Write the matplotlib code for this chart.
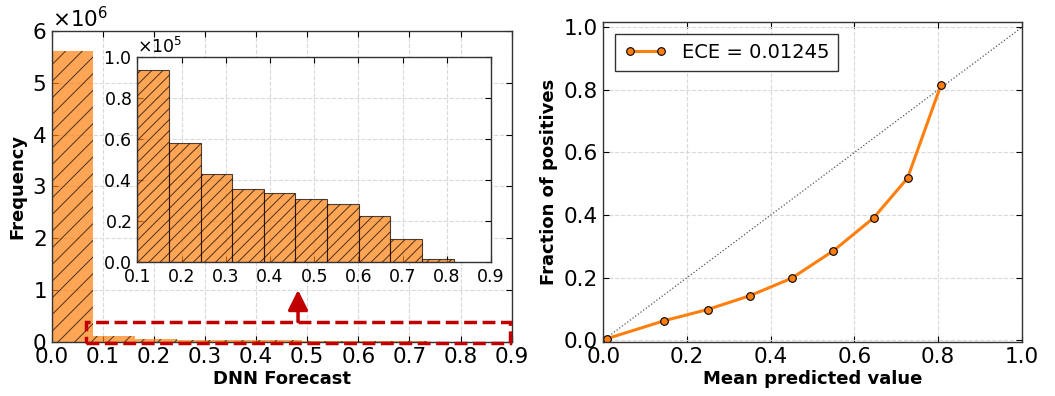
import matplotlib
matplotlib.use("Agg")
import matplotlib.pyplot as plt
from matplotlib.patches import Rectangle
from matplotlib.ticker import ScalarFormatter
import numpy as np

# histogram of the DNN forecast (full range)
main_edges = [0.0, 0.0815, 0.163, 0.2445, 0.326, 0.4075, 0.489, 0.5705, 0.652, 0.7335, 0.815]
main_counts = [5.62e6, 0.115e6, 0.052e6, 0.035e6, 0.031e6, 0.028e6, 0.024e6, 0.016e6, 0.006e6, 0.0008e6]

# zoomed histogram (forecast > 0.1)
inset_edges = [0.1, 0.1715, 0.243, 0.3145, 0.386, 0.4575, 0.529, 0.6005, 0.672, 0.7435, 0.815]
inset_counts = [0.938e5, 0.58e5, 0.43e5, 0.355e5, 0.335e5, 0.306e5, 0.283e5, 0.226e5, 0.111e5, 0.013e5]

# reliability curve
mean_pred = [0.009, 0.145, 0.249, 0.350, 0.450, 0.550, 0.646, 0.727, 0.807]
frac_pos = [0.005, 0.062, 0.098, 0.142, 0.198, 0.286, 0.391, 0.518, 0.816]
ece_label = "ECE = 0.01245"

ORANGE = "#ff7f0e"
RED = "#c00000"

plt.rcParams["hatch.color"] = "black"
plt.rcParams["hatch.linewidth"] = 0.7


def style_axes(ax, size):
    ax.tick_params(direction="in", top=True, right=True, labelsize=size,
                   length=4, width=0.8, pad=4)
    ax.grid(True, linestyle="--", color="#d9d9d9", linewidth=0.8)
    ax.set_axisbelow(True)
    for sp in ax.spines.values():
        sp.set_color("#333333")
        sp.set_linewidth(1.0)


def sci_formatter():
    fmt = ScalarFormatter(useMathText=True)
    fmt.set_powerlimits((0, 0))
    return fmt


fig = plt.figure(figsize=(10.55, 3.96), dpi=100)

# left: histogram
ax1 = fig.add_axes([0.049, 0.137, 0.436, 0.785])
ax1.bar(main_edges[:-1], main_counts, width=np.diff(main_edges), align="edge",
        color=ORANGE, alpha=0.7, edgecolor="black", linewidth=0, hatch="//")
ax1.set_xlim(0, 0.9)
ax1.set_ylim(0, 6e6)
ax1.set_xticks(np.arange(0, 0.91, 0.1))
ax1.yaxis.set_major_formatter(sci_formatter())
style_axes(ax1, 15.5)
ax1.yaxis.get_offset_text().set_fontsize(15.5)
ax1.set_xlabel("DNN Forecast", fontsize=13, fontweight="bold", labelpad=2)
ax1.set_ylabel("Frequency", fontsize=13, fontweight="bold", labelpad=4)

# red dashed box + arrow marking the zoomed region
ax1.add_patch(Rectangle((0.068, -0.02e6), 0.828, 0.41e6, fill=False,
                        edgecolor=RED, linestyle="--", linewidth=2.5,
                        clip_on=False, zorder=5))
ax1.annotate("", xy=(0.482, 1.0e6), xytext=(0.482, 0.39e6),
             arrowprops=dict(arrowstyle="-|>,head_width=0.4,head_length=0.8",
                             color=RED, lw=2.5, mutation_scale=15,
                             shrinkA=0, shrinkB=0), zorder=5)

# inset
axin = fig.add_axes([0.1302, 0.3384, 0.3353, 0.517])
axin.bar(inset_edges[:-1], inset_counts, width=np.diff(inset_edges), align="edge",
         color=ORANGE, alpha=0.7, edgecolor="black", linewidth=0.8, hatch="///")
axin.set_xlim(0.1, 0.9)
axin.set_ylim(0, 1e5)
axin.set_xticks(np.arange(0.1, 0.91, 0.1))
axin.set_yticks(np.arange(0, 1.01e5, 0.2e5))
axin.yaxis.set_major_formatter(sci_formatter())
style_axes(axin, 12.5)
axin.yaxis.get_offset_text().set_fontsize(12.5)

# right: reliability diagram
ax2 = fig.add_axes([0.5719, 0.137, 0.3966, 0.8066])
ax2.plot([0, 1], [0, 1], linestyle=":", color="#555555", linewidth=0.9)
ax2.plot(mean_pred, frac_pos, marker="o", color=ORANGE, linewidth=2.2,
         markersize=5.5, markeredgecolor="black", markeredgewidth=0.8,
         label=ece_label)
ax2.set_xlim(0, 1)
ax2.set_ylim(-0.005, 1.016)
ax2.set_xticks(np.arange(0, 1.01, 0.2))
ax2.set_yticks(np.arange(0, 1.01, 0.2))
style_axes(ax2, 15.5)
ax2.set_xlabel("Mean predicted value", fontsize=13, fontweight="bold", labelpad=2)
ax2.set_ylabel("Fraction of positives", fontsize=13, fontweight="bold", labelpad=4)
leg = ax2.legend(loc="upper left", fontsize=14, numpoints=2, fancybox=False,
                 framealpha=1, edgecolor="#333333", handlelength=2.2,
                 borderpad=0.45, borderaxespad=0.6)
leg.get_frame().set_linewidth(1.0)

fig.savefig("out.png", dpi=100)
